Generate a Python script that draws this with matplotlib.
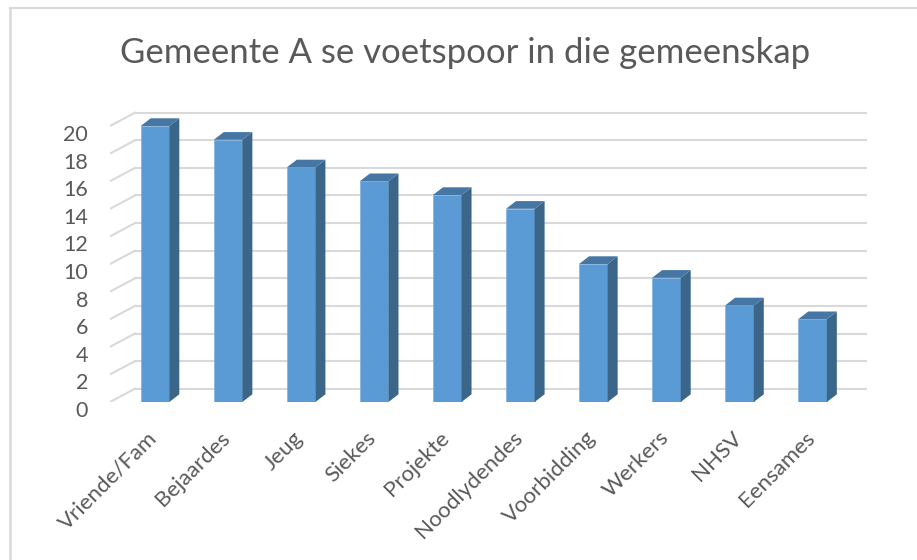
import matplotlib
matplotlib.use("Agg")
import matplotlib.pyplot as plt
from matplotlib.patches import Polygon
from matplotlib.lines import Line2D

categories = ["Vriende/Fam", "Bejaardes", "Jeug", "Siekes", "Projekte",
              "Noodlydendes", "Voorbidding", "Werkers", "NHSV", "Eensames"]
values = [20, 19, 17, 16, 15, 14, 10, 9, 7, 6]
yticks = [0, 2, 4, 6, 8, 10, 12, 14, 16, 18, 20]
title = "Gemeente A se voetspoor in die gemeenskap"

W, H = 917, 560
fig = plt.figure(figsize=(W / 100, H / 100), dpi=100)
FONT = "Lato"
GRAY = "#595959"

# pixel geometry
px_step = 73.06
px_c0 = 155.0
px_unit = 13.8
px_zero = 402.0
ax_left_px, ax_right_px, ax_top_px = 110.0, 867.0, 100.0

xl = (ax_left_px - px_c0) / px_step
xr = (ax_right_px - px_c0) / px_step
ytop = (px_zero - ax_top_px) / px_unit

ax = fig.add_axes([ax_left_px / W, (H - px_zero) / H,
                   (ax_right_px - ax_left_px) / W, (px_zero - ax_top_px) / H])
ax.set_xlim(xl, xr)
ax.set_ylim(0, ytop)
ax.axis("off")

wall_dx = 25 / px_step
wall_dy = 13.3 / px_unit
bar_dx = 10 / px_step
bar_dy = 7.7 / px_unit
bw = 28.6 / px_step

grid_c = "#d9d9d9"
for v in yticks:
    ax.add_line(Line2D([xl, xl + wall_dx], [v, v + wall_dy], color=grid_c, lw=1.5, zorder=1))
    ax.add_line(Line2D([xl + wall_dx, xr], [v + wall_dy, v + wall_dy], color=grid_c, lw=1.5, zorder=1))
    ax.text(xl - 22 / px_step, v - 0.65, str(v), ha="right", va="center",
            fontsize=15.5, color=GRAY, family=FONT, clip_on=False)

xs = list(range(len(categories)))
ax.bar(xs, values, width=bw, color="#5B9BD5", edgecolor="#7fb0df", linewidth=0.5, zorder=3)
for i, v in zip(xs, values):
    r = i + bw / 2
    l = i - bw / 2
    side = Polygon([(r, 0), (r + bar_dx, bar_dy), (r + bar_dx, v + bar_dy), (r, v)],
                   closed=True, facecolor="#3B6589", edgecolor="none", zorder=3)
    top = Polygon([(l, v), (r, v), (r + bar_dx, v + bar_dy), (l + bar_dx, v + bar_dy)],
                  closed=True, facecolor="#4676A3", edgecolor="none", zorder=3)
    ax.add_patch(side)
    ax.add_patch(top)
    ax.text(i - 0.11, -1.85, categories[i], rotation=45, rotation_mode="anchor",
            ha="right", va="top", fontsize=16, color=GRAY, family=FONT, clip_on=False)

fig.text(465.5 / W, 1 - 63 / H, title, ha="center", va="baseline",
         fontsize=25, color=GRAY, family=FONT)

# chart frame (top and left edges visible)
fig.add_artist(Line2D([9.5 / W, 1.0], [1 - 7.5 / H, 1 - 7.5 / H],
                      transform=fig.transFigure, color="#d9d9d9", lw=1.5))
fig.add_artist(Line2D([9.5 / W, 9.5 / W], [0, 1 - 7.5 / H],
                      transform=fig.transFigure, color="#d9d9d9", lw=1.8))

fig.savefig("out.png", dpi=100, facecolor="white")
